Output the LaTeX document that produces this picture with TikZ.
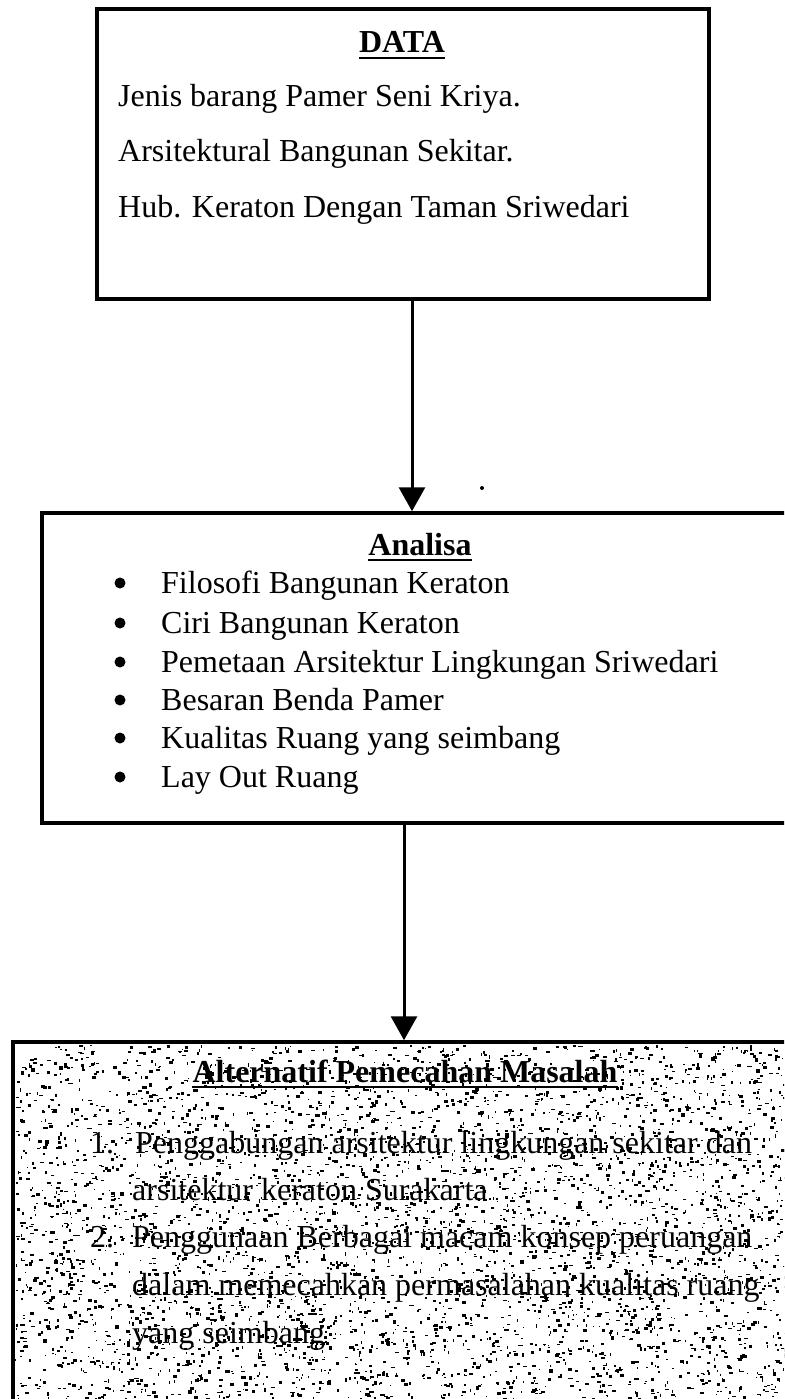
\documentclass[tikz,border=0pt]{standalone}
\usepackage{fontspec}
\setmainfont{Liberation Serif}
\usetikzlibrary{arrows.meta}
\begin{document}
\begin{tikzpicture}[x=1pt,y=-1pt,
  box/.style={draw, line width=3.5pt, rectangle, inner sep=0pt},
  txt/.style={font=\fontsize{32}{38}\selectfont, inner sep=0pt, anchor=base west},
  ttl/.style={font=\fontsize{32}{38}\selectfont\bfseries, inner sep=0pt, anchor=base},
  ul/.style={line width=2.4pt},
  arr/.style={line width=3pt, -{Triangle[width=26pt,length=24pt]}},
  bul/.style={circle, fill, inner sep=0pt, minimum size=11pt}]
\useasboundingbox (0,0) rectangle (784,1399);
\clip (0,0) rectangle (784,1399);
\fill[white] (0,0) rectangle (784,1399);

% Box 1: DATA
\node[box, minimum width=612pt, minimum height=290pt] (data) at (403,154) {};
\node[ttl] (datat) at (402,53) {DATA};
\draw[ul] ([yshift=-5pt]datat.base west) -- ([yshift=-5pt]datat.base east);
\node[txt] (d1) at (118,107) {Jenis barang Pamer Seni Kriya.};
\node[txt] (d2) at (118,162) {Arsitektural Bangunan Sekitar.};
\node[txt] (d3) at (118,217) {Hub. Keraton Dengan Taman Sriwedari};

% Box 2: Analisa
\node[box, minimum width=748pt, minimum height=310pt] (ana) at (416,668) {};
\node[ttl] (anat) at (420,555) {Analisa};
\draw[ul] ([yshift=-5pt]anat.base west) -- ([yshift=-5pt]anat.base east);
\foreach \n/\yy/\t in {a1/593/Filosofi Bangunan Keraton,
                       a2/633/Ciri Bangunan Keraton,
                       a3/672/Pemetaan Arsitektur Lingkungan Sriwedari,
                       a4/710/Besaran Benda Pamer,
                       a5/748/Kualitas Ruang yang seimbang,
                       a6/787/Lay Out Ruang}{
  \node[bul] (\n b) at (120,\yy-10) {};
  \node[txt] (\n) at (161,\yy) {\t};
}

% stray dot
\fill (482,488) circle (2pt);

% Box 3: Alternatif
\node[box, minimum width=787pt, minimum height=378pt] (alt) at (406.5,1231) {};
\pgfmathsetseed{42}
\foreach \i in {1,...,4500}{
  \pgfmathsetmacro{\sx}{15+rnd*770}
  \pgfmathsetmacro{\sy}{1045+rnd*355}
  \pgfmathsetmacro{\sw}{0.8+rnd*3.5}
  \pgfmathsetmacro{\sh}{0.8+rnd*2.6}
  \fill (\sx,\sy) rectangle ++(\sw,\sh);
}
\node[ttl] (altt) at (405,1082) {Alternatif Pemecahan Masalah};
\draw[ul] ([yshift=-5pt]altt.base west) -- ([yshift=-5pt]altt.base east);
\node[txt] (n1) at (90,1153) {1.};
\node[txt] (l1) at (135,1153) {Penggabungan arsitektur lingkungan sekitar dan};
\node[txt] (l2) at (132,1200) {arsitektur keraton Surakarta};
\node[txt] (n2) at (90,1247) {2.};
\node[txt] (l3) at (132,1247) {Penggunaan Berbagai macam konsep peruangan};
\node[txt] (l4) at (132,1295) {dalam memecahkan permasalahan kualitas ruang};
\node[txt] (l5) at (132,1343) {yang seimbang};

% arrows
\coordinate (x1) at (412,0);
\coordinate (x2) at (404,0);
\draw[arr] (data.south -| x1) -- (ana.north -| x1);
\draw[arr] (ana.south -| x2) -- (alt.north -| x2);
\end{tikzpicture}
\end{document}
